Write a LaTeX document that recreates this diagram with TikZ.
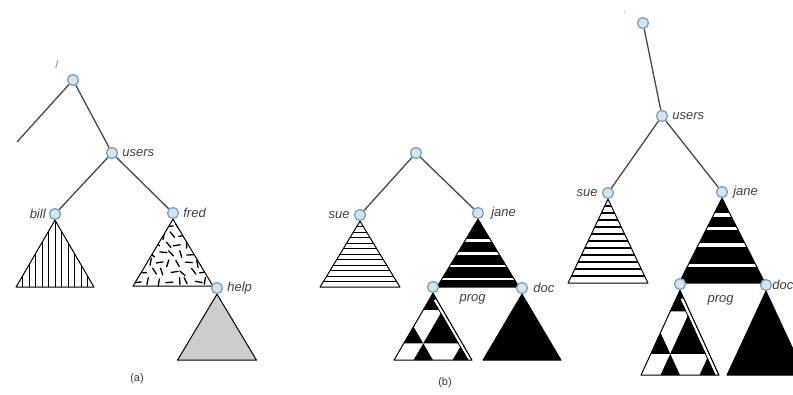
\documentclass[tikz,border=0pt]{standalone}
\usepackage{fontspec}
\setmainfont{Liberation Sans}
\usetikzlibrary{positioning, calc}
\pgfdeclarelayer{bg}
\pgfsetlayers{bg,main}
\definecolor{dotFace}{HTML}{D2E6F2}
\definecolor{dotEdge}{HTML}{7C9FB8}
\definecolor{edgeCol}{HTML}{484848}
\definecolor{labelCol}{HTML}{404040}
\definecolor{helpFill}{HTML}{CDCDCD}

\begin{document}
\begin{tikzpicture}[
    x=1pt, y=-1pt,
    dirnode/.style={
        circle, draw=dotEdge, fill=dotFace,
        line width=1.3pt, minimum size=11pt, inner sep=0pt
    },
    edgeline/.style={line width=1.3pt, color=edgeCol},
    dirlabel/.style={
        font=\fontsize{13}{15}\selectfont\itshape,
        text=labelCol, inner sep=1pt
    },
    caption/.style={font=\fontsize{11}{13}\selectfont, text=labelCol},
    subtree/.style={draw=black, line width=1pt, line join=round},
    stripe/.style={line width=1pt, color=black},
    dashmark/.style={line width=1.3pt, color=black, line cap=round}
]
    \useasboundingbox (0,0) rectangle (793,394);

    % --- (a) ORIGINAL TREE ---
    \node[caption, text=gray] (slashA) at (57,65) {/};
    \node[dirnode] (rootA) at (73,80) {};
    \node[dirnode] (usersA) at (112,153) {};
    \node[dirnode] (billA) at (55,214) {};
    \node[dirnode] (fredA) at (173,213) {};
    \node[dirnode] (helpA) at (217,288) {};
    \coordinate (leftA) at (17,142);

    \node[dirlabel, right=3pt of usersA] {users};
    \node[dirlabel, left=2pt of billA] {bill};
    \node[dirlabel, right=3pt of fredA] {fred};
    \node[dirlabel, right=3pt of helpA] {help};
    \node[caption] (capA) at (137,379) {(a)};

    % --- (b) MOUNTED VOLUME ---
    \node[dirnode] (rootB) at (416,153) {};
    \node[dirnode] (sueB) at (360,215) {};
    \node[dirnode] (janeB) at (478,213) {};
    \node[dirnode] (progB) at (433,287) {};
    \node[dirnode] (docB) at (522,288) {};

    \node[dirlabel, left=3pt of sueB] {sue};
    \node[dirlabel, right=6pt of janeB] {jane};
    \node[dirlabel, below right=2pt and 21pt of progB] {prog};
    \node[dirlabel, right=4pt of docB] {doc};
    \node[caption] (capB) at (445,383) {(b)};

    % --- (c) AFTER MOUNT ---
    \node[caption, text=gray!60, font=\fontsize{6}{7}\selectfont] (slashC) at (625,12) {/};
    \node[dirnode] (rootC) at (643,23) {};
    \node[dirnode] (usersC) at (662,116) {};
    \node[dirnode] (sueC) at (608,193) {};
    \node[dirnode] (janeC) at (722,192) {};
    \node[dirnode] (progC) at (680,284) {};
    \node[dirnode] (docC) at (766,285) {};

    \node[dirlabel, right=3pt of usersC] {users};
    \node[dirlabel, left=3pt of sueC] {sue};
    \node[dirlabel, right=4pt of janeC] {jane};
    \node[dirlabel, below right=6pt and 22pt of progC] {prog};
    \node[dirlabel, right=0pt of docC, inner sep=0pt] {doc};

    \begin{pgfonlayer}{bg}
    % --- EDGES ---
    \draw[edgeline] (rootA) -- (leftA);
    \draw[edgeline] (rootA) -- (usersA);
    \draw[edgeline] (usersA) -- (billA);
    \draw[edgeline] (usersA) -- (fredA);
    \draw[edgeline] (rootB) -- (sueB);
    \draw[edgeline] (rootB) -- (janeB);
    \draw[edgeline] (rootC) -- (usersC);
    \draw[edgeline] (usersC) -- (sueC);
    \draw[edgeline] (usersC) -- (janeC);

    % --- bill: vertical stripes ---
    \begin{scope}[shift={(billA.south)}, x=39pt, y=-67pt]
        \begin{scope}
            \clip (0,0) -- (-1,1) -- (1,1) -- cycle;
            \foreach \k in {-6,...,6}
                \draw[stripe] (\k/6,0) -- (\k/6,1);
        \end{scope}
        \draw[subtree] (0,0) -- (-1,1) -- (1,1) -- cycle;
    \end{scope}

    % --- fred: scattered dashes ---
    \begin{scope}[shift={(fredA.south)}, x=40pt, y=-67pt]
        \begin{scope}
            \clip (0,0) -- (-1,1) -- (1,1) -- cycle;
            \pgfmathsetseed{11}
            \foreach \r in {1,...,7} {
                \foreach \c in {-4,...,4} {
                    \pgfmathsetmacro\yy{(\r-0.3)/7.2 + 0.02*rand}
                    \pgfmathsetmacro\xx{(\c + 0.5*mod(\r,2))*0.24 + 0.05*rand}
                    \pgfmathsetmacro\ang{mod(\r+\c,3)==0 ? 10*rand : 105+35*rand}
                    \draw[dashmark] (\xx,\yy) ++(\ang:-3.5pt) -- ++(\ang:7pt);
                }
            }
        \end{scope}
        \draw[subtree] (0,0) -- (-1,1) -- (1,1) -- cycle;
    \end{scope}

    % --- help: grey ---
    \begin{scope}[shift={(helpA.south)}, x=39.5pt, y=-66pt]
        \draw[subtree, fill=helpFill] (0,0) -- (-1,1) -- (1,1) -- cycle;
    \end{scope}

    % --- sue: horizontal stripes ---
    \foreach \tn/\hw/\ht/\lw in {sueB/40pt/-66pt/1pt, sueC/40pt/-84pt/1.6pt} {
        \begin{scope}[shift={(\tn.south)}, x=\hw, y=\ht]
            \begin{scope}
                \clip (0,0) -- (-1,1) -- (1,1) -- cycle;
                \foreach \k in {1,...,11}
                    \draw[stripe, line width=\lw] (-1,\k/12) -- (1,\k/12);
            \end{scope}
            \draw[subtree] (0,0) -- (-1,1) -- (1,1) -- cycle;
        \end{scope}
    }

    % --- jane: black with white bands ---
    \foreach \tn/\hw/\ht/\bands in {janeB/41pt/-68pt/{0.31,0.51,0.69,0.88},
                                   janeC/43pt/-85pt/{0.2,0.36,0.55,0.79}} {
        \begin{scope}[shift={(\tn.south)}, x=\hw, y=\ht]
            \begin{scope}
                \clip (0,0) -- (-1,1) -- (1,1) -- cycle;
                \fill[black] (-1,0) rectangle (1,1);
                \foreach \f in \bands
                    \fill[white] (-1,\f-0.02) rectangle (1,\f+0.02);
            \end{scope}
            \draw[subtree] (0,0) -- (-1,1) -- (1,1) -- cycle;
        \end{scope}
    }

    % --- prog: black and white triangles ---
    \foreach \tn/\ux/\uy in {progB/9.75pt/-16.75pt, progC/9.75pt/-21.25pt} {
        \begin{scope}[shift={(\tn.south)}, x=\ux, y=\uy]
            \foreach \ax/\ay/\sz in {0/0/1, 1/1/2, -2/2/1, -1/3/1, 3/3/1}
                \fill[black] (\ax,\ay) -- ++(-\sz,\sz) -- ++(2*\sz,0) -- cycle;
            \draw[white, line width=2.5pt] (0.2,0.4) -- (3.8,4);
            \draw[black, line width=0.8pt] (0.4,0.8) -- (3.6,4);
            \draw[subtree] (0,0) -- (-4,4) -- (4,4) -- cycle;
        \end{scope}
    }

    % --- doc: solid black ---
    \foreach \tn/\ht in {docB/-66pt, docC/-84pt} {
        \begin{scope}[shift={(\tn.south)}, x=39pt, y=\ht]
            \draw[subtree, fill=black] (0,0) -- (-1,1) -- (1,1) -- cycle;
        \end{scope}
    }
    \end{pgfonlayer}

\end{tikzpicture}
\end{document}
